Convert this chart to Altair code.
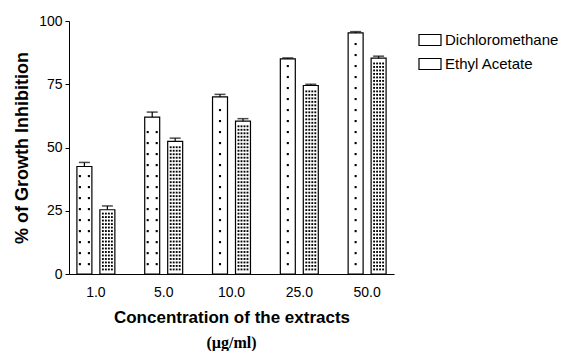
import altair as alt
import pandas as pd

concentrations = ["1.0", "5.0", "10.0", "25.0", "50.0"]
series_names = ["Dichloromethane", "Ethyl Acetate"]
dcm_values = [42.5, 62.0, 70.0, 85.0, 95.3]
ea_values = [25.4, 52.4, 60.4, 74.5, 85.3]
dcm_errors = [1.6, 2.0, 1.0, 0.4, 0.5]
ea_errors = [1.5, 1.3, 1.0, 0.5, 0.8]

rows = []
for name, vals, errs in [(series_names[0], dcm_values, dcm_errors),
                         (series_names[1], ea_values, ea_errors)]:
    for c, v, e in zip(concentrations, vals, errs):
        rows.append({"conc": c, "series": name, "value": v, "top": v + e})
df = pd.DataFrame(rows)

# geometry of the grouped band layout (used only for the fill pattern)
PLOT_W, PLOT_H = 325, 253
PI, PO = 0.3, 0.0465
STEP = PLOT_W / (len(concentrations) - PI + 2 * PO)
BW = STEP * (1 - PI)
OPI, OPO = 0.348, 0.207
OSTEP = BW / (2 - OPI + 2 * OPO)
OBW = OSTEP * (1 - OPI)
centers = [OPO * OSTEP + OBW / 2 + i * OSTEP for i in range(2)]

# dotted fill pattern inside bars
dot_rows = []
for c, v in zip(concentrations, dcm_values):
    cols = [-4.5, 4.5] if c in ("1.0", "5.0") else [0.0]
    y = 3.9
    while y < v - 2.0:
        for dxp in cols:
            dot_rows.append({"conc": c, "series": "d", "f": (centers[0] + dxp) / BW, "y": y})
        y += 4.35
for c, v in zip(concentrations, ea_values):
    y = 1.8
    while y < v - 1.0:
        for dxp in [-4.5, -1.5, 1.5, 4.5]:
            dot_rows.append({"conc": c, "series": "e", "f": (centers[1] + dxp) / BW, "y": y})
        y += 1.38
dots_df = pd.DataFrame(dot_rows)

LABEL_FONT = "Liberation Sans"
TITLE_FONT = "Liberation Sans"
x_enc = alt.X(
    "conc:N", sort=concentrations,
    scale=alt.Scale(paddingInner=PI, paddingOuter=PO),
    axis=alt.Axis(title="Concentration of the extracts", labelAngle=0, ticks=False,
                  labelPadding=11, titlePadding=10, labelFont=LABEL_FONT, labelFontSize=14,
                  labelColor="black", titleFont=TITLE_FONT, titleFontSize=17,
                  titleFontWeight="bold", titleColor="black", domainColor="black"),
)
xo_enc = alt.XOffset("series:N", sort=series_names,
                     scale=alt.Scale(paddingInner=OPI, paddingOuter=OPO))
y_scale = alt.Scale(domain=[0, 100])

bars = alt.Chart(df).mark_bar(stroke="black", strokeWidth=1.2).encode(
    x=x_enc, xOffset=xo_enc,
    y=alt.Y("value:Q", scale=y_scale,
            axis=alt.Axis(title="% of Growth Inhibition", values=[0, 25, 50, 75, 100],
                          grid=False, tickSize=4, labelPadding=3, titlePadding=7,
                          labelFont=LABEL_FONT, labelFontSize=14, labelColor="black",
                          titleFont=TITLE_FONT, titleFontSize=18,
                          titleFontWeight="bold", titleColor="black",
                          domainColor="black", tickColor="black")),
    fill=alt.Fill("series:N", sort=series_names,
                  scale=alt.Scale(domain=series_names, range=["white", "white"]),
                  legend=alt.Legend(title=None, orient="none", legendX=349, legendY=7,
                                    symbolType="M-1,-0.5H1V0.5H-1Z", symbolSize=484,
                                    symbolStrokeColor="black", symbolStrokeWidth=1.2,
                                    labelFont=LABEL_FONT, labelFontSize=15, labelColor="black",
                                    labelLimit=300, rowPadding=4, labelOffset=3)),
)

err = alt.Chart(df).mark_rule(color="black", strokeWidth=1.2).encode(
    x=x_enc, xOffset=xo_enc, y=alt.Y("value:Q", scale=y_scale), y2="top:Q")
cap = alt.Chart(df).mark_tick(color="black", thickness=1.5, size=11).encode(
    x=x_enc, xOffset=xo_enc, y=alt.Y("top:Q", scale=y_scale))

dots_d = alt.Chart(dots_df).transform_filter("datum.series == 'd'").mark_square(
    color="black", size=4.5, opacity=1).encode(
    x=x_enc,
    xOffset=alt.XOffset("f:Q", scale=alt.Scale(domain=[0, 1])),
    y=alt.Y("y:Q", scale=y_scale),
)
dots_e = alt.Chart(dots_df).transform_filter("datum.series == 'e'").mark_square(
    color="black", size=3.5, opacity=1).encode(
    x=x_enc,
    xOffset=alt.XOffset("f:Q", scale=alt.Scale(domain=[0, 1])),
    y=alt.Y("y:Q", scale=y_scale),
)

chart = alt.layer(bars, dots_d, dots_e, err, cap).resolve_scale(xOffset="independent").properties(
    width=PLOT_W, height=PLOT_H,
    padding={"top": 6, "left": 5, "right": 5, "bottom": 0},
    title=alt.TitleParams("(µg/ml)", orient="bottom", anchor="middle", frame="group",
                          font="Liberation Serif", fontSize=16, fontWeight="bold",
                          color="black", offset=10),
).configure_view(stroke=None)

chart.save("out.html", embed_options={"renderer": "svg", "actions": False})
